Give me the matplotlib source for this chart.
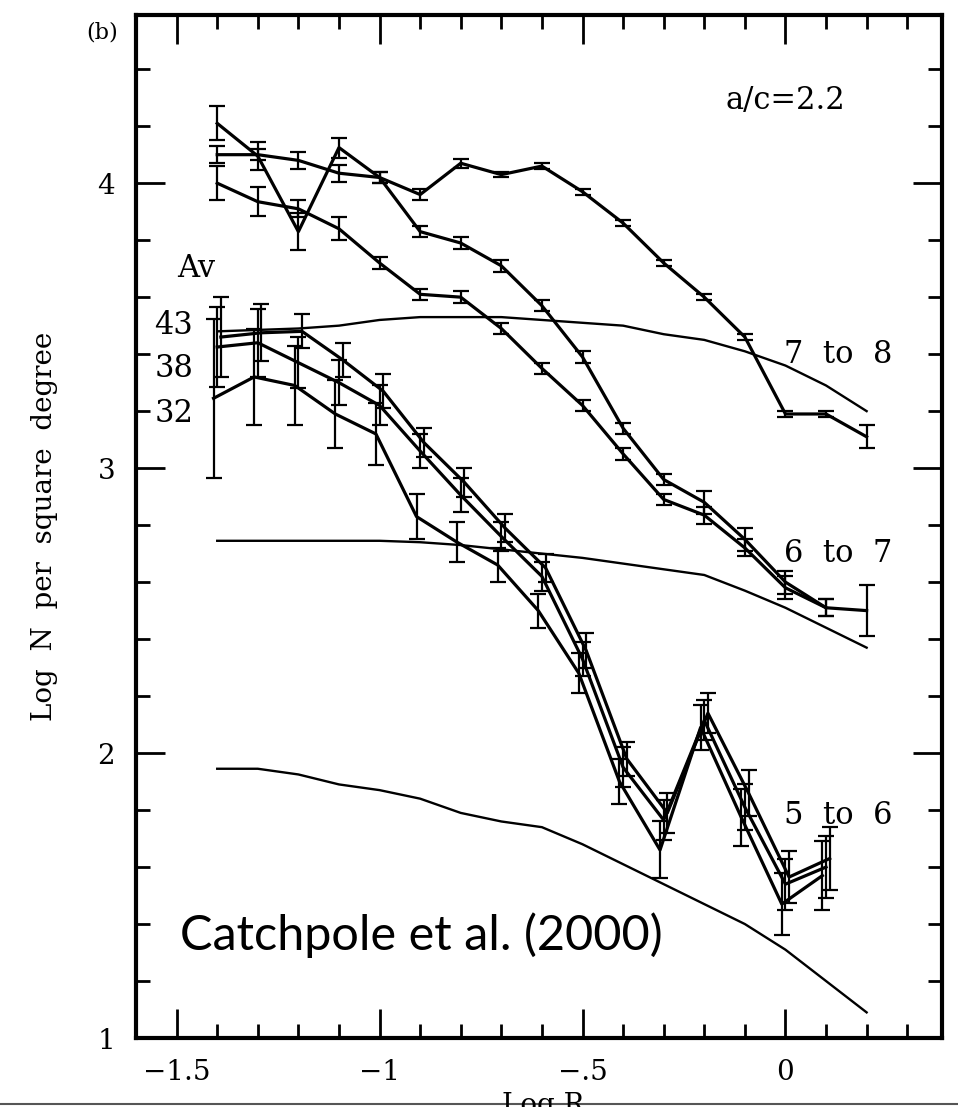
import matplotlib
matplotlib.use('Agg')
import matplotlib.pyplot as plt
from matplotlib.ticker import MultipleLocator, FixedLocator, FixedFormatter
from matplotlib.lines import Line2D


# Log R positions of the counts
log_r = [-1.4, -1.3, -1.2, -1.1, -1.0, -0.9, -0.8, -0.7, -0.6, -0.5,
         -0.4, -0.3, -0.2, -0.1, 0.0, 0.1, 0.2]
log_r_short = log_r[:16]

# model curves (no error bars)
model_7to8 = [3.48, 3.485, 3.49, 3.50, 3.52, 3.53, 3.53, 3.53, 3.52, 3.51,
              3.50, 3.47, 3.45, 3.41, 3.36, 3.29, 3.20]
model_6to7 = [2.745, 2.745, 2.745, 2.745, 2.745, 2.74, 2.73, 2.715, 2.70, 2.685,
              2.665, 2.645, 2.625, 2.57, 2.51, 2.44, 2.37]
model_5to6 = [1.945, 1.945, 1.925, 1.89, 1.87, 1.84, 1.79, 1.76, 1.74, 1.68,
              1.61, 1.54, 1.47, 1.40, 1.31, 1.20, 1.09]

# observed counts, 7 to 8 mag
obs_7to8 = [4.10, 4.10, 4.08, 4.035, 4.02, 3.96, 4.07, 4.03, 4.06, 3.97,
            3.86, 3.72, 3.60, 3.46, 3.19, 3.19, 3.11]
err_7to8 = [0.03, 0.02, 0.03, 0.03, 0.02, 0.02, 0.015, 0.01, 0.01, 0.01,
            0.01, 0.01, 0.01, 0.01, 0.01, 0.01, 0.04]

# observed counts, 6 to 7 mag (two runs)
obs_6to7_a = [4.21, 4.095, 3.83, 4.125, 4.02, 3.83, 3.79, 3.71, 3.57, 3.39,
              3.14, 2.96, 2.88, 2.75, 2.60, 2.51]
err_6to7_a = [0.06, 0.05, 0.065, 0.035, 0.02, 0.02, 0.02, 0.02, 0.02, 0.02,
              0.02, 0.02, 0.04, 0.04, 0.04, 0.03]
obs_6to7_b = [4.00, 3.935, 3.91, 3.84, 3.72, 3.61, 3.60, 3.49, 3.35, 3.22,
              3.05, 2.89, 2.835, 2.72, 2.58, 2.51, 2.50]
err_6to7_b = [0.06, 0.05, 0.03, 0.04, 0.02, 0.02, 0.02, 0.02, 0.02, 0.02,
              0.02, 0.02, 0.03, 0.03, 0.04, 0.03, 0.09]

# observed counts, 5 to 6 mag for three extinctions
obs_av43 = [3.46, 3.475, 3.48, 3.38, 3.27, 3.09, 2.95, 2.79, 2.65, 2.36,
            1.98, 1.79, 2.14, 1.86, 1.565, 1.63]
err_av43 = [0.14, 0.10, 0.06, 0.06, 0.06, 0.05, 0.05, 0.05, 0.05, 0.06,
            0.06, 0.07, 0.07, 0.08, 0.09, 0.11]
obs_av38 = [3.425, 3.44, 3.37, 3.30, 3.22, 3.06, 2.905, 2.76, 2.62, 2.33,
            1.95, 1.765, 2.115, 1.81, 1.54, 1.60]
err_av38 = [0.14, 0.12, 0.09, 0.08, 0.07, 0.06, 0.06, 0.05, 0.05, 0.06,
            0.07, 0.07, 0.07, 0.08, 0.09, 0.11]
obs_av32 = [3.245, 3.32, 3.29, 3.19, 3.12, 2.83, 2.74, 2.66, 2.50, 2.28,
            1.90, 1.66, 2.09, 1.775, 1.47, 1.57]
err_av32 = [0.28, 0.17, 0.14, 0.12, 0.11, 0.08, 0.07, 0.06, 0.06, 0.07,
            0.08, 0.10, 0.08, 0.10, 0.11, 0.12]

x_ticks = [-1.5, -1.0, -0.5, 0.0]
x_tick_labels = ['\u22121.5', '\u22121', '\u2212.5', '0']
y_ticks = [1, 2, 3, 4]
y_tick_labels = ['1', '2', '3', '4']

SERIF = 'DejaVu Serif'


def draw_obs(ax, x, y, err, shift=0.0):
    xs = [v + shift for v in x]
    ax.errorbar(xs, y, yerr=err, color='black', lw=2.3, elinewidth=1.6,
                capsize=6, capthick=1.6)


def main():
    fig = plt.figure(figsize=(9.58, 11.07), dpi=100)
    ax = fig.add_axes([0.142, 0.0623, 0.841, 0.9241])

    # models
    for model in (model_7to8, model_6to7, model_5to6):
        ax.plot(log_r, model, color='black', lw=1.7)

    # observations
    draw_obs(ax, log_r, obs_7to8, err_7to8)
    draw_obs(ax, log_r_short, obs_6to7_a, err_6to7_a)
    draw_obs(ax, log_r, obs_6to7_b, err_6to7_b)
    draw_obs(ax, log_r_short, obs_av43, err_av43, 0.009)
    draw_obs(ax, log_r_short, obs_av38, err_av38, 0.0)
    draw_obs(ax, log_r_short, obs_av32, err_av32, -0.009)

    ax.set_xlim(-1.6, 0.385)
    ax.set_ylim(1.0, 4.59)

    ax.xaxis.set_major_locator(FixedLocator(x_ticks))
    ax.xaxis.set_major_formatter(FixedFormatter(x_tick_labels))
    ax.xaxis.set_minor_locator(MultipleLocator(0.1))
    ax.yaxis.set_major_locator(FixedLocator(y_ticks))
    ax.yaxis.set_major_formatter(FixedFormatter(y_tick_labels))
    ax.yaxis.set_minor_locator(MultipleLocator(0.2))
    ax.tick_params(which='both', direction='in', top=True, right=True,
                   width=2, labelsize=20)
    ax.tick_params(which='major', length=21)
    ax.tick_params(which='minor', length=10)
    ax.tick_params(axis='x', pad=15)
    ax.tick_params(axis='y', pad=15)
    for lab in ax.get_xticklabels() + ax.get_yticklabels():
        lab.set_family(SERIF)
    for sp in ax.spines.values():
        sp.set_linewidth(3)

    ax.set_ylabel('Log  N  per  square  degree', family=SERIF, fontsize=20)
    ax.yaxis.set_label_coords(-0.097, 0.5)

    # annotations
    txt = dict(family=SERIF, fontsize=22, ha='center', va='center')
    ax.text(0.0, 4.29, 'a/c=2.2', **txt)
    ax.text(0.13, 3.40, '7  to  8', **txt)
    ax.text(0.13, 2.70, '6  to  7', **txt)
    ax.text(0.13, 1.78, '5  to  6', **txt)
    ax.text(-1.453, 3.70, 'Av', **txt)
    ax.text(-1.507, 3.50, '43', **txt)
    ax.text(-1.507, 3.35, '38', **txt)
    ax.text(-1.507, 3.19, '32', **txt)
    ax.text(-1.492, 1.31, 'Catchpole et al. (2000)', family='Lato',
            fontsize=35, ha='left', va='baseline')

    fig.text(102 / 958, 1 - 32 / 1107, '(b)', family=SERIF, fontsize=16,
             ha='center', va='center')
    # x label is cut by the lower edge of the picture, as in the source
    fig.text(543 / 958, 1 - 1092 / 1107, 'Log R', family=SERIF, fontsize=20,
             ha='center', va='top')
    fig.add_artist(Line2D([0, 1], [3 / 1107, 3 / 1107], color='#555555', lw=1.5))

    fig.savefig('out.png', dpi=100)


if __name__ == "__main__":
    main()
